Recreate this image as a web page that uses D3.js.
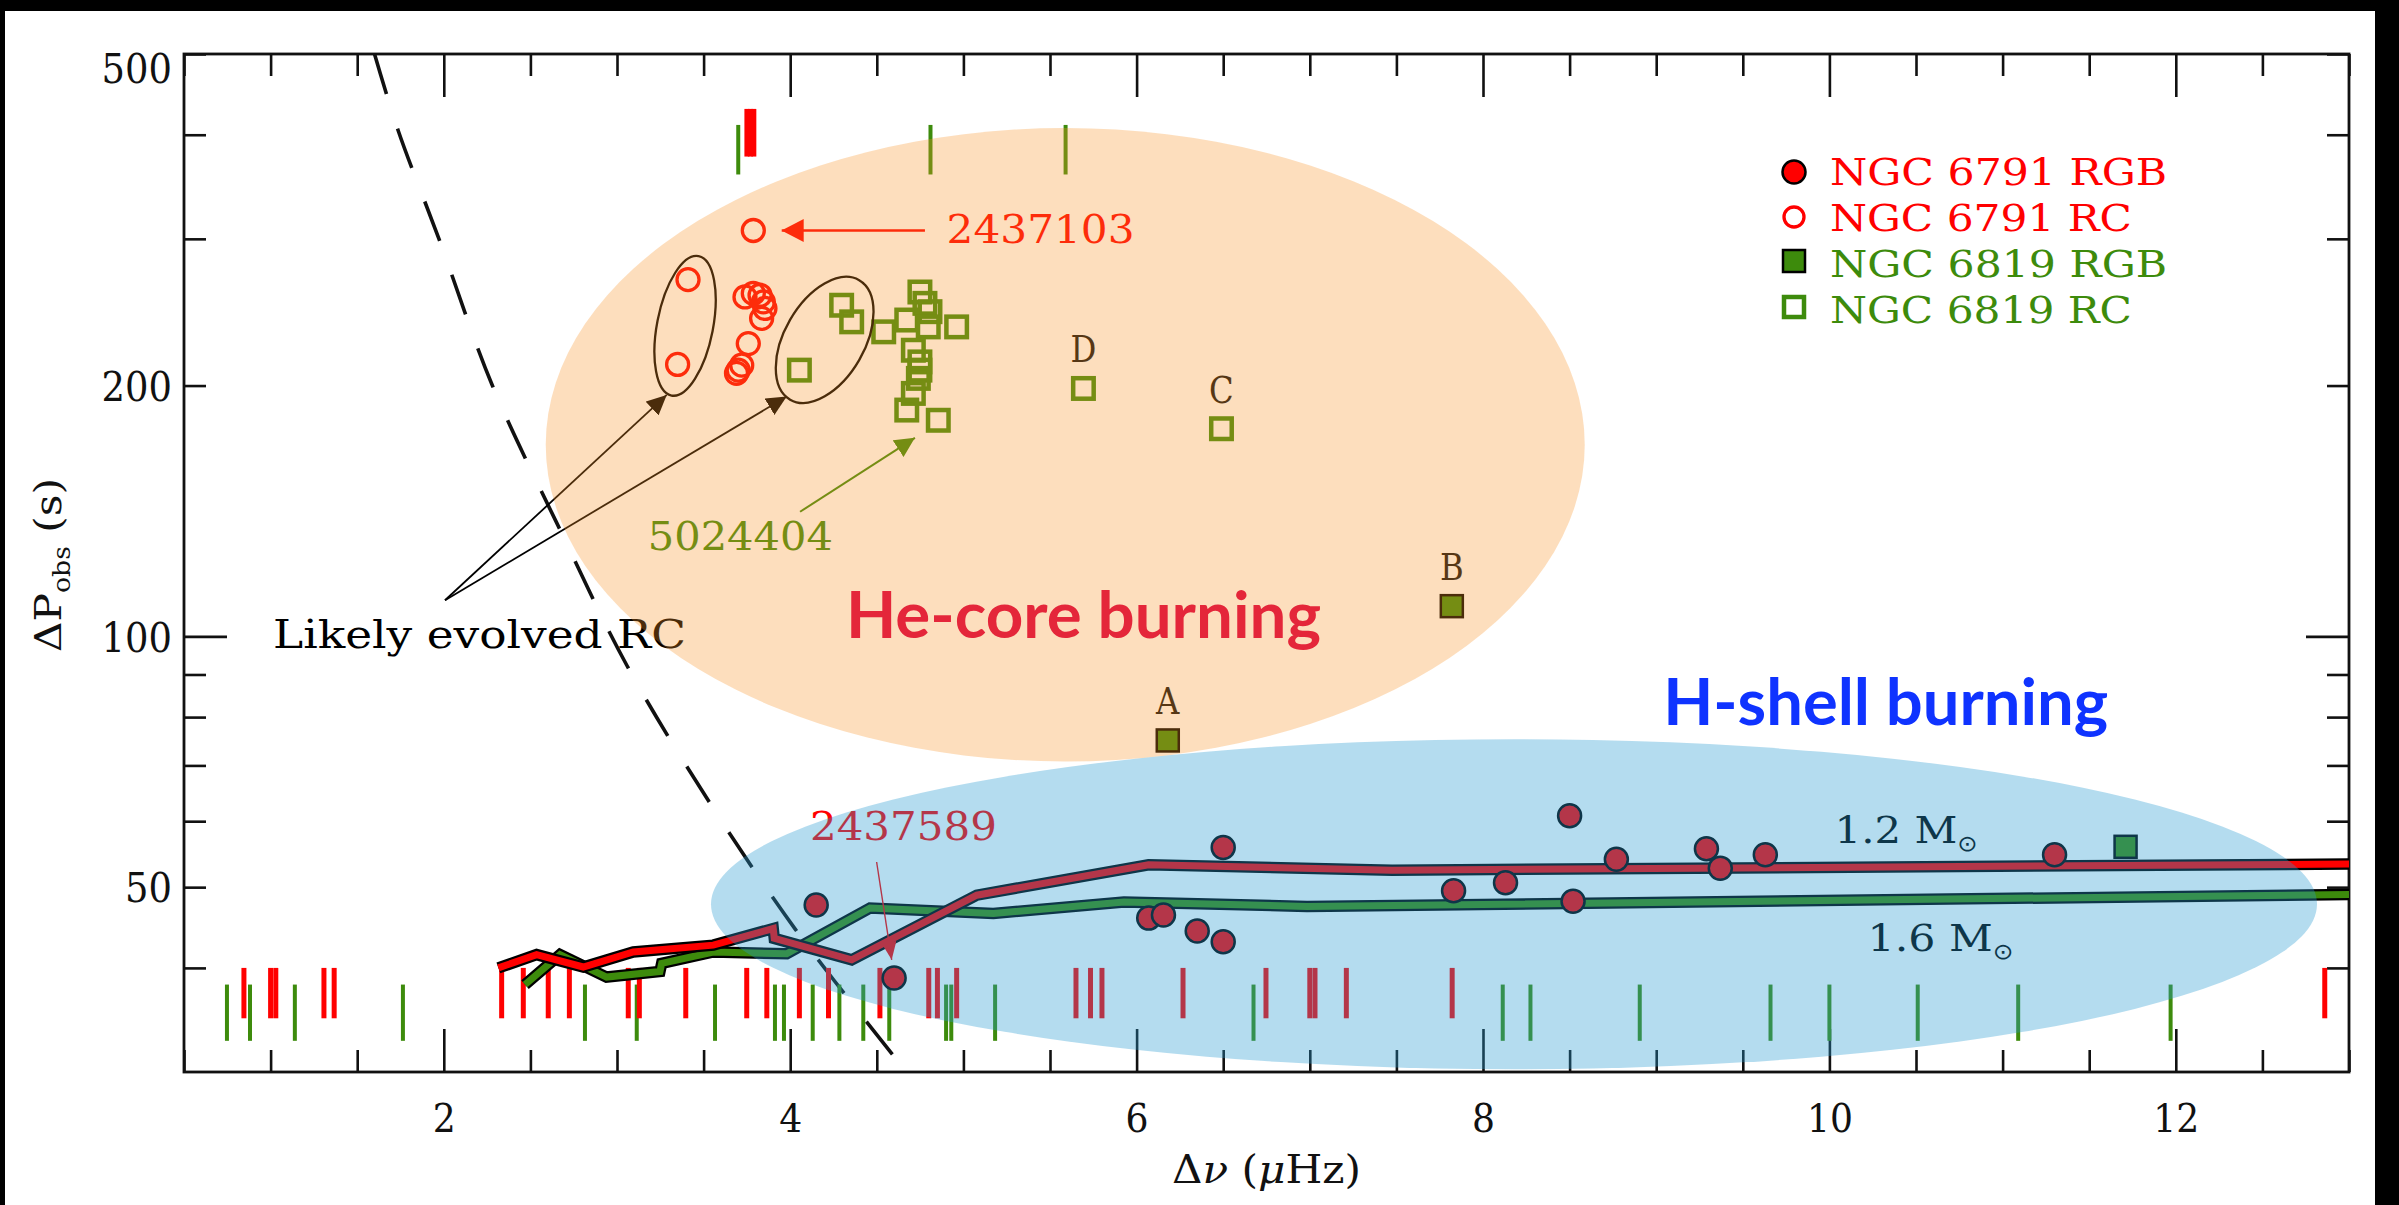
<!DOCTYPE html>
<html>
<head>
<meta charset="utf-8">
<title>Period spacing vs large frequency separation</title>
<script src="https://cdn.jsdelivr.net/npm/d3@7"></script>
<style>
  html, body { margin: 0; padding: 0; background: #fff; }
  svg { display: block; }
</style>
</head>
<body>
<div id="chart"></div>
<script>
// ---- data: [Δν (μHz), ΔP (s)] ----
const ngc6791RGB = [
  [4.15, 47.6], [4.60, 38.9], [6.07, 45.9], [6.155, 46.3], [6.35, 44.3], [6.50, 43.0],
  [6.50, 55.8], [7.83, 49.5], [8.13, 50.6], [8.50, 60.9], [8.52, 48.1], [8.77, 54.0],
  [9.29, 55.6], [9.37, 52.7], [9.63, 54.7], [11.30, 54.7]
];
const ngc6791RC = [
  [3.787, 307], [3.41, 268], [3.35, 212], [3.739, 255.5], [3.787, 258], [3.826, 256.7],
  [3.845, 252], [3.854, 247.5], [3.835, 240.8], [3.758, 224.6], [3.72, 211.6], [3.70, 208.7],
  [3.69, 206.9]
];
const ngc6819RGB = [[6.18, 75.0], [7.82, 108.7], [11.71, 55.9]];
const ngc6819RC = [
  [4.053, 208.7], [4.297, 249.7], [4.355, 238.5], [4.54, 232], [4.749, 259], [4.778, 251],
  [4.807, 245.3], [4.673, 239.7], [4.797, 235.2], [4.961, 235.2], [4.711, 220.5], [4.749, 213.5],
  [4.749, 208.7], [4.74, 204], [4.711, 195.7], [4.673, 186.9], [4.855, 181.7],
  [5.693, 198.4], [6.49, 177.5]
];
const labelledStars = [
  { name: "A", at: [6.18, 75.0] }, { name: "B", at: [7.82, 108.7] },
  { name: "C", at: [6.49, 177.5] }, { name: "D", at: [5.693, 198.4] }
];

// model tracks
const model12 = [
  [2.315, 40.0], [2.536, 41.5], [2.805, 40.1], [3.094, 41.8], [3.556, 42.6], [3.902, 44.6],
  [3.908, 43.4], [4.355, 40.9], [5.077, 48.9], [6.069, 53.2], [7.475, 52.4], [13.0, 53.3]
];
const model16 = [
  [2.469, 38.2], [2.671, 41.5], [2.94, 39.0], [3.248, 39.6], [3.258, 40.5], [3.556, 41.8],
  [3.98, 41.6], [4.461, 47.2], [5.173, 46.5], [5.927, 48.0], [6.984, 47.4], [13.0, 49.0]
];
// dashed separation line
const boundary = [
  [1.6, 500], [1.736, 405], [1.972, 300], [2.278, 200.6], [2.677, 133.5],
  [3.058, 92.2], [3.53, 63.4], [4.03, 44.5], [4.59, 31.5]
];

// rug marks (Δν only)
const rugLow6791 = [0.846, 1.0, 1.03, 1.308, 1.367, 2.334, 2.459, 2.603, 2.725, 3.065, 3.129,
  3.397, 3.749, 3.865, 4.053, 4.221, 4.518, 4.80, 4.85, 4.961, 5.65, 5.734, 5.80, 6.268,
  6.747, 7.0, 7.03, 7.211, 7.822, 12.86];
const rugLow6819 = [0.748, 0.881, 1.14, 1.764, 2.815, 3.114, 3.566, 3.912, 3.964, 4.13, 4.284,
  4.422, 4.572, 4.90, 4.93, 5.183, 6.675, 8.114, 8.274, 8.905, 9.66, 10.0, 10.51, 11.09, 11.97];
const rugHigh6791 = [3.75, 3.77, 3.79];
const rugHigh6819 = [3.70, 4.81, 5.59];
const rugSpan = { low6791: [34.8, 40], low6819: [32.7, 38.2], high6791: [376.6, 429.6], high6819: [358.4, 411] };

// axes
const xTickLabels = [2, 4, 6, 8, 10, 12];
const yTickLabels = [50, 100, 200, 500];
const yMajor = [100];
const yMinor = [40, 50, 60, 70, 80, 90, 200, 300, 400, 500];

const legendItems = [
  { label: "NGC 6791 RGB", len: 337 }, { label: "NGC 6791 RC", len: 302 },
  { label: "NGC 6819 RGB", len: 337 }, { label: "NGC 6819 RC", len: 302 }
];

// ---- layout ----
const W = 2399, H = 1205;
const frame = { left: 184, right: 2349, top: 54, bottom: 1072 };
const SERIF = '"DejaVu Serif", "Liberation Serif", serif';
const SANS = 'Lato, "Open Sans", sans-serif';
const RED = "#ff0000", GREEN = "#3d8b0c", INK = "#111";

const x = d3.scaleLinear().domain([0.5, 13]).range([frame.left, frame.right]);
const y = d3.scaleLog().domain([30, 500]).range([frame.bottom, frame.top]);

const svg = d3.select("#chart").append("svg").attr("width", W).attr("height", H);
const defs = svg.append("defs");
defs.append("clipPath").attr("id", "plotClip").append("rect")
  .attr("x", frame.left).attr("y", frame.top)
  .attr("width", frame.right - frame.left).attr("height", frame.bottom - frame.top);

svg.append("rect").attr("width", W).attr("height", H).attr("fill", "#fff");
svg.append("rect").attr("width", W).attr("height", 11).attr("fill", "#000");
svg.append("rect").attr("width", 5).attr("height", H).attr("fill", "#000");
svg.append("rect").attr("x", 2375).attr("width", W - 2375).attr("height", H).attr("fill", "#000");

// ---- axes ----
function tickAxis(axis, tx, ty) {
  const g = svg.append("g").attr("transform", `translate(${tx},${ty})`).call(axis);
  g.select(".domain").remove();
  g.selectAll(".tick line").attr("stroke", INK).attr("stroke-width", 2.6);
  return g;
}
const xMinor = d3.range(0.5, 13.001, 0.5).filter(v => !xTickLabels.includes(v));
tickAxis(d3.axisBottom(x).tickValues(xMinor).tickSize(-22).tickFormat(""), 0, frame.bottom);
tickAxis(d3.axisBottom(x).tickValues(xTickLabels).tickSize(-43).tickFormat(""), 0, frame.bottom);
tickAxis(d3.axisTop(x).tickValues(xMinor).tickSize(-22).tickFormat(""), 0, frame.top);
tickAxis(d3.axisTop(x).tickValues(xTickLabels).tickSize(-43).tickFormat(""), 0, frame.top);
tickAxis(d3.axisLeft(y).tickValues(yMinor).tickSize(-22).tickFormat(""), frame.left, 0);
tickAxis(d3.axisLeft(y).tickValues(yMajor).tickSize(-43).tickFormat(""), frame.left, 0);
tickAxis(d3.axisRight(y).tickValues(yMinor).tickSize(-22).tickFormat(""), frame.right, 0);
tickAxis(d3.axisRight(y).tickValues(yMajor).tickSize(-43).tickFormat(""), frame.right, 0);

svg.append("rect")
  .attr("x", frame.left).attr("y", frame.top)
  .attr("width", frame.right - frame.left).attr("height", frame.bottom - frame.top)
  .attr("fill", "none").attr("stroke", INK).attr("stroke-width", 2.8);

const xLabels = svg.append("g").attr("transform", `translate(0,${frame.bottom})`)
  .call(d3.axisBottom(x).tickValues(xTickLabels).tickSize(0).tickPadding(32).tickFormat(d3.format("d")));
xLabels.select(".domain").remove();
xLabels.attr("font-family", SERIF).attr("font-size", 40);
xLabels.selectAll("text").attr("fill", INK)
  .attr("textLength", d => String(d).length * 23).attr("lengthAdjust", "spacingAndGlyphs");

const yLabels = svg.append("g").attr("transform", `translate(${frame.left},0)`)
  .call(d3.axisLeft(y).tickValues(yTickLabels).tickSize(0).tickPadding(12).tickFormat(d3.format("d")));
yLabels.select(".domain").remove();
yLabels.attr("font-family", SERIF).attr("font-size", 41);
yLabels.selectAll("text").attr("fill", INK)
  .attr("dy", d => d === 500 ? "0.7em" : "0.36em")
  .attr("textLength", d => String(d).length * 23.5).attr("lengthAdjust", "spacingAndGlyphs");

const xTitle = svg.append("text")
  .attr("x", (frame.left + frame.right) / 2).attr("y", 1183)
  .attr("text-anchor", "middle").attr("font-family", SERIF).attr("font-size", 40).attr("fill", INK)
  .attr("textLength", 189).attr("lengthAdjust", "spacingAndGlyphs");
xTitle.append("tspan").text("Δ");
xTitle.append("tspan").attr("font-style", "italic").text("ν");
xTitle.append("tspan").text(" (");
xTitle.append("tspan").attr("font-style", "italic").text("μ");
xTitle.append("tspan").text("Hz)");

const yTitle = svg.append("text")
  .attr("transform", `translate(61,${(frame.top + frame.bottom) / 2 + 2}) rotate(-90)`)
  .attr("text-anchor", "middle").attr("font-family", SERIF).attr("font-size", 38).attr("fill", INK)
  .attr("textLength", 174).attr("lengthAdjust", "spacingAndGlyphs");
yTitle.append("tspan").text("ΔP");
yTitle.append("tspan").attr("font-size", 24).attr("dy", 9).text("obs");
yTitle.append("tspan").attr("dy", -9).text(" (s)");

// ---- plot content ----
const plot = svg.append("g").attr("clip-path", "url(#plotClip)");

plot.append("path").datum(boundary)
  .attr("d", d3.line().x(d => x(d[0])).y(d => y(d[1])).curve(d3.curveCatmullRom))
  .attr("fill", "none").attr("stroke", INK).attr("stroke-width", 3.6).attr("stroke-dasharray", "42 36");

function rug(values, span, color, width) {
  plot.append("g").selectAll("line").data(values).join("line")
    .attr("x1", d => x(d)).attr("x2", d => x(d))
    .attr("y1", y(span[0])).attr("y2", y(span[1]))
    .attr("stroke", color).attr("stroke-width", width);
}
rug(rugLow6819, rugSpan.low6819, GREEN, 4);
rug(rugLow6791, rugSpan.low6791, RED, 5);
rug(rugHigh6791, rugSpan.high6791, RED, 5);
rug(rugHigh6819, rugSpan.high6819, GREEN, 4);

const track = d3.line().x(d => x(d[0])).y(d => y(d[1]));
[[model16, GREEN], [model12, RED]].forEach(([pts, color]) => {
  plot.append("path").datum(pts).attr("d", track).attr("fill", "none")
    .attr("stroke", "#000").attr("stroke-width", 11.5).attr("stroke-linejoin", "miter");
  plot.append("path").datum(pts).attr("d", track).attr("fill", "none")
    .attr("stroke", color).attr("stroke-width", 7).attr("stroke-linejoin", "miter");
});

plot.append("g").selectAll("circle").data(ngc6791RC).join("circle")
  .attr("cx", d => x(d[0])).attr("cy", d => y(d[1])).attr("r", 11)
  .attr("fill", "none").attr("stroke", RED).attr("stroke-width", 3.3);
plot.append("g").selectAll("rect").data(ngc6819RC).join("rect")
  .attr("x", d => x(d[0]) - 10.25).attr("y", d => y(d[1]) - 10.25).attr("width", 20.5).attr("height", 20.5)
  .attr("fill", "none").attr("stroke", GREEN).attr("stroke-width", 4.5);
plot.append("g").selectAll("rect").data(ngc6819RGB).join("rect")
  .attr("x", d => x(d[0]) - 11).attr("y", d => y(d[1]) - 11).attr("width", 22).attr("height", 22)
  .attr("fill", GREEN).attr("stroke", "#000").attr("stroke-width", 2.5);
plot.append("g").selectAll("circle").data(ngc6791RGB).join("circle")
  .attr("cx", d => x(d[0])).attr("cy", d => y(d[1])).attr("r", 11.5)
  .attr("fill", RED).attr("stroke", "#000").attr("stroke-width", 2.5);

plot.append("g").selectAll("text").data(labelledStars).join("text")
  .attr("x", d => x(d.at[0])).attr("y", d => y(d.at[1]) - 26)
  .attr("text-anchor", "middle").attr("font-family", SERIF).attr("font-size", 38).attr("fill", INK)
  .attr("transform", d => `translate(${x(d.at[0])},0) scale(0.85,1) translate(${-x(d.at[0])},0)`)
  .text(d => d.name);

// ---- annotations ----
function arrowHead(id, color, len, wid) {
  defs.append("marker").attr("id", id).attr("markerUnits", "userSpaceOnUse")
    .attr("viewBox", `0 0 ${len} ${wid}`).attr("markerWidth", len).attr("markerHeight", wid)
    .attr("refX", len).attr("refY", wid / 2).attr("orient", "auto")
    .append("path").attr("d", `M0,0L${len},${wid / 2}L0,${wid}Z`).attr("fill", color);
}
arrowHead("headBlack", "#000", 20, 19);
arrowHead("headRed", RED, 22, 23);
arrowHead("headGreen", GREEN, 20, 20);
arrowHead("headThin", RED, 18, 15);

const arrows = [
  { from: [2.007, 110.5], to: [3.287, 194.9], color: "#000", width: 1.8, head: "headBlack" },
  { from: [2.007, 110.5], to: [3.98, 194.0], color: "#000", width: 1.8, head: "headBlack" },
  { from: [4.778, 307], to: [3.951, 307], color: RED, width: 2.4, head: "headRed" },
  { from: [4.057, 141.1], to: [4.72, 173.1], color: GREEN, width: 2, head: "headGreen" },
  { from: [4.499, 53.6], to: [4.586, 40.9], color: RED, width: 1.4, head: "headThin" }
];
plot.append("g").selectAll("line").data(arrows).join("line")
  .attr("x1", d => x(d.from[0])).attr("y1", d => y(d.from[1]))
  .attr("x2", d => x(d.to[0])).attr("y2", d => y(d.to[1]))
  .attr("stroke", d => d.color).attr("stroke-width", d => d.width)
  .attr("marker-end", d => `url(#${d.head})`);

const rings = [
  { at: [3.393, 235.9], rx: 28, ry: 71, angle: 11 },
  { at: [4.199, 226.9], rx: 40, ry: 69, angle: 30 }
];
plot.append("g").selectAll("ellipse").data(rings).join("ellipse")
  .attr("transform", d => `translate(${x(d.at[0])},${y(d.at[1])}) rotate(${d.angle})`)
  .attr("rx", d => d.rx).attr("ry", d => d.ry)
  .attr("fill", "none").attr("stroke", "#000").attr("stroke-width", 2.3);

const notes = [
  { text: "2437103", at: [4.903, 296.4], color: RED, len: 188 },
  { text: "5024404", at: [3.178, 126.9], color: GREEN, len: 185 },
  { text: "2437589", at: [4.114, 56.9], color: RED, len: 187 },
  { text: "Likely evolved RC", at: [1.014, 96.8], color: "#000", len: 413 }
];
plot.append("g").selectAll("text").data(notes).join("text")
  .attr("x", d => x(d.at[0])).attr("y", d => y(d.at[1]))
  .attr("font-family", SERIF).attr("font-size", 39).attr("fill", d => d.color)
  .attr("textLength", d => d.len).attr("lengthAdjust", "spacingAndGlyphs")
  .text(d => d.text);

const masses = [
  { value: "1.2", at: [10.03, 56.5], len: 143 },
  { value: "1.6", at: [10.22, 41.9], len: 146 }
];
masses.forEach(m => {
  const t = plot.append("text").attr("x", x(m.at[0])).attr("y", y(m.at[1]))
    .attr("font-family", SERIF).attr("font-size", 38).attr("fill", "#000")
    .attr("textLength", m.len).attr("lengthAdjust", "spacingAndGlyphs");
  t.append("tspan").text(`${m.value} M`);
  t.append("tspan").attr("font-family", '"DejaVu Sans", sans-serif').attr("font-size", 22).attr("dy", 8).text("⊙");
});

// translucent burning-phase zones
const zones = [
  { at: [5.588, 169.8], rx: 519.5, ry: 316.7, fill: "rgb(248,145,38)", opacity: 0.3 },
  { at: [8.179, 47.7], rx: 803, ry: 165, fill: "rgb(40,156,210)", opacity: 0.35 }
];
svg.append("g").selectAll("ellipse").data(zones).join("ellipse")
  .attr("cx", d => x(d.at[0])).attr("cy", d => y(d.at[1]))
  .attr("rx", d => d.rx).attr("ry", d => d.ry)
  .attr("fill", d => d.fill).attr("fill-opacity", d => d.opacity);

const phases = [
  { text: "He-core burning", at: [4.322, 99.6], color: "#e4263a", len: 475 },
  { text: "H-shell burning", at: [9.04, 78.2], color: "#0f33ff", len: 445 }
];
svg.append("g").selectAll("text").data(phases).join("text")
  .attr("x", d => x(d.at[0])).attr("y", d => y(d.at[1]))
  .attr("font-family", SANS).attr("font-weight", 700).attr("font-size", 65)
  .attr("fill", d => d.color)
  .attr("textLength", d => d.len).attr("lengthAdjust", "spacingAndGlyphs")
  .text(d => d.text);

// ---- legend ----
const legend = svg.append("g").attr("transform", `translate(${frame.right - 555},${frame.top + 131})`);
legendItems.forEach((item, i) => {
  const row = legend.append("g").attr("transform", `translate(0,${i * 46})`);
  const color = i < 2 ? RED : GREEN;
  if (i === 0) row.append("circle").attr("cy", -13).attr("r", 11.5).attr("fill", RED).attr("stroke", "#000").attr("stroke-width", 2.5);
  if (i === 1) row.append("circle").attr("cy", -14).attr("r", 10).attr("fill", "none").attr("stroke", RED).attr("stroke-width", 3.3);
  if (i === 2) row.append("rect").attr("x", -11).attr("y", -27).attr("width", 22).attr("height", 22).attr("fill", GREEN).attr("stroke", "#000").attr("stroke-width", 2.5);
  if (i === 3) row.append("rect").attr("x", -10).attr("y", -26).attr("width", 20).attr("height", 20).attr("fill", "none").attr("stroke", GREEN).attr("stroke-width", 4.5);
  row.append("text").attr("x", 36).attr("font-family", SERIF).attr("font-size", 38).attr("fill", color)
    .attr("textLength", item.len).attr("lengthAdjust", "spacingAndGlyphs")
    .text(item.label);
});
</script>
</body>
</html>
